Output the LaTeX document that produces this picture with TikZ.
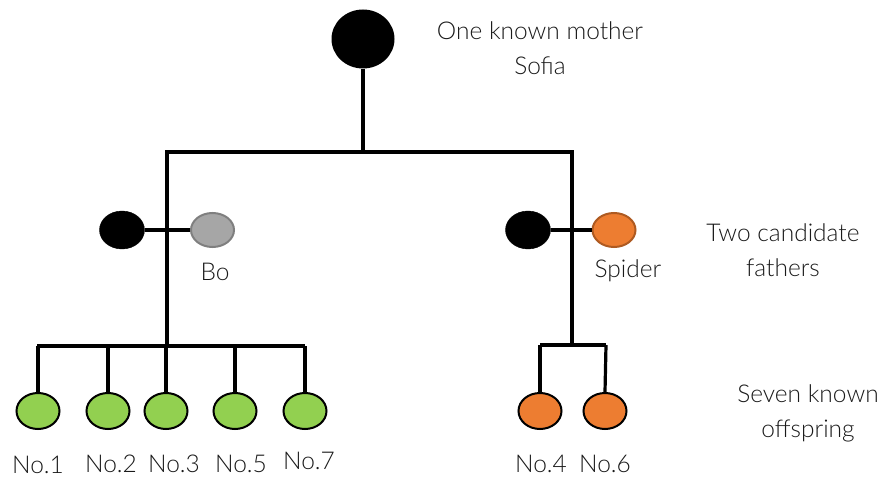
\documentclass[tikz,border=0pt]{standalone}
\usepackage{fontspec}
\setmainfont{Lato Light}
\definecolor{txt}{HTML}{1A1A1A}
\definecolor{grayfill}{HTML}{A6A6A6}
\definecolor{graydraw}{HTML}{7F7F7F}
\definecolor{greenfill}{HTML}{92D050}
\definecolor{orangefill}{HTML}{ED7D31}
\definecolor{orangedraw}{HTML}{AE5A21}
\tikzset{
  conn/.style={line width=3.2pt, black},
  kid/.style={ellipse, draw=black, line width=2pt, inner sep=0pt, minimum width=43pt, minimum height=36pt},
  lbl/.style={text=txt, font=\fontsize{24.5}{35}\selectfont, align=center, inner sep=0pt},
}
\usetikzlibrary{shapes.geometric}
\begin{document}
\begin{tikzpicture}[x=1pt,y=-1pt]
\useasboundingbox (0,0) rectangle (892,478);
% mother
\node[ellipse, fill=black, inner sep=0pt, minimum width=63pt, minimum height=59pt] (mother) at (363,39) {};
\node[lbl] (mtxt) at (540,48) {One known mother\\Sofia};
\coordinate (top) at (363,152);
\coordinate (tl) at (167,152);
\coordinate (tr) at (572,152);
\coordinate (lb) at (167,346);
\coordinate (rb) at (572,345);
\draw[conn] (mother.south) -- (top);
\draw[conn] (lb) -- (tl) -- (tr) -- (rb);
% fathers left
\node[ellipse, fill=black, draw=black, inner sep=0pt, minimum width=45pt, minimum height=38pt] (f1) at (122,230) {};
\node[ellipse, fill=grayfill, draw=graydraw, line width=2pt, inner sep=0pt, minimum width=43pt, minimum height=34pt] (bo) at (212.5,230) {};
\draw[conn] (f1.east) -- (bo.west);
\node[lbl] (botxt) at (215,272) {Bo};
% fathers right
\node[ellipse, fill=black, draw=black, inner sep=0pt, minimum width=45pt, minimum height=38pt] (f2) at (528,230) {};
\node[ellipse, fill=orangefill, draw=orangedraw, line width=2pt, inner sep=0pt, minimum width=43pt, minimum height=34pt] (spider) at (614,230) {};
\draw[conn] (f2.east) -- (spider.west);
\node[lbl] (sptxt) at (628,271) {Spider};
\node[lbl] (ftxt) at (783,250) {Two candidate\\fathers};
% offspring left
\coordinate (hl) at (37,346);
\coordinate (hr) at (305,346);
\draw[conn] (hl) -- (hr);
\foreach \x/\n in {38/1,108/2,166/3,235/5,305/7}{
  \node[kid, fill=greenfill] (k\n) at (\x,411) {};
  \draw[conn] (k\n.north) -- (\x,346);
}
\node[lbl] (t1) at (38,465) {No.1};
\node[lbl] (t2) at (111,464) {No.2};
\node[lbl] (t3) at (174,464) {No.3};
\node[lbl] (t5) at (241,464) {No.5};
\node[lbl] (t7) at (309,461) {No.7};
% offspring right
\coordinate (rl) at (540,345);
\coordinate (rr) at (606,345);
\draw[conn] (rl) -- (rr);
\node[kid, fill=orangefill] (k4) at (540,411) {};
\node[kid, fill=orangefill] (k6) at (605,411) {};
\draw[conn] (k4.north) -- (rl);
\draw[conn] (k6.north) -- (rr);
\node[lbl] (t4) at (541,464) {No.4};
\node[lbl] (t6) at (605,464) {No.6};
\node[lbl] (otxt) at (808,413) {Seven known\\offspring};
\end{tikzpicture}
\end{document}
